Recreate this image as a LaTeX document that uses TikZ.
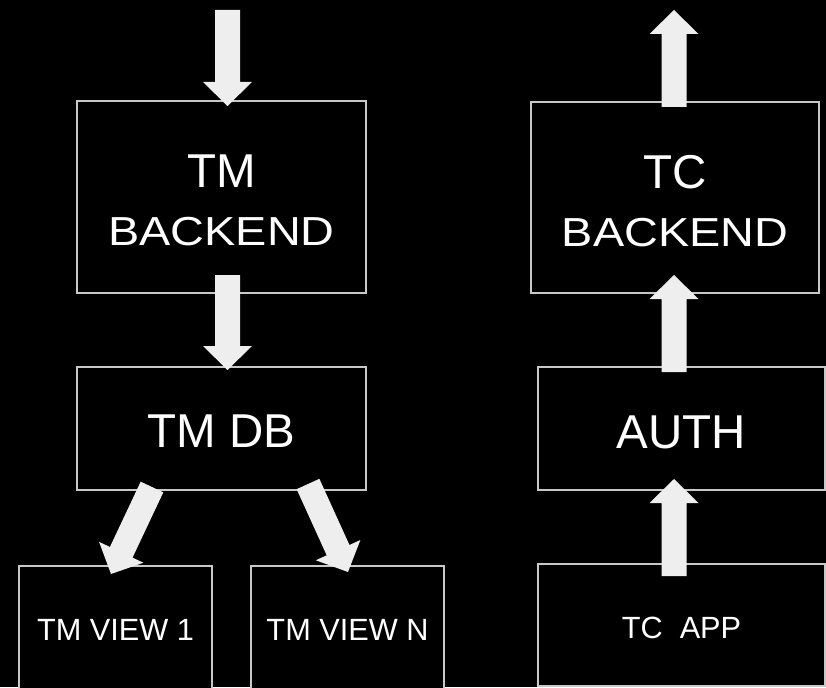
\documentclass[tikz,border=0pt]{standalone}
\usepackage{fontspec}
\setmainfont{Liberation Sans}
\usetikzlibrary{calc}
\definecolor{boxline}{RGB}{200,200,200}
\definecolor{arrfill}{RGB}{238,238,238}
\newcommand{\blockarr}[2]{%
  \coordinate (hb) at ($(#2)!24pt!(#1)$);
  \fill[arrfill] ($(#1)!12.5pt!90:(#2)$) -- ($(hb)!12.5pt!90:(#2)$) -- ($(hb)!24.5pt!90:(#2)$)
    -- (#2) -- ($(hb)!24.5pt!-90:(#2)$) -- ($(hb)!12.5pt!-90:(#2)$) -- ($(#1)!12.5pt!-90:(#2)$) -- cycle;
}
\newcommand{\dn}[2]{\raisebox{-#1}[\height][\depth]{#2}}
\newcommand{\twoline}[1]{\dn{8pt}{\begin{tabular}{@{}c@{}}#1\\\scalebox{0.985}[0.853]{BACKEND}\end{tabular}}}
\begin{document}
\begin{tikzpicture}[x=1pt,y=-1pt,
  box/.style={draw=boxline, line width=1.5pt, fill=black, text=white, inner sep=0pt, rectangle, align=center},
  big/.style={font=\fontsize{47.5}{58}\selectfont},
  small/.style={font=\fontsize{30.7}{36}\selectfont}]
\fill[black] (0,0) rectangle (826,687);
\useasboundingbox (0,0) rectangle (826,687);
% boxes
\node[box,big,minimum width=289pt,minimum height=192pt] (TMB) at (221.5,197) {\twoline{TM}};
\node[box,big,minimum width=289pt,minimum height=123pt] (TMDB) at (221.5,428.5) {\dn{2.5pt}{TM DB}};
\node[box,small,minimum width=193pt,minimum height=126pt] (V1) at (115.5,629) {\dn{1pt}{TM VIEW 1}};
\node[box,small,minimum width=193pt,minimum height=126pt] (VN) at (347.5,629) {\dn{1pt}{TM VIEW N}};
\node[box,big,minimum width=288pt,minimum height=191pt] (TCB) at (675,197.5) {\twoline{TC}};
\node[box,big,minimum width=287pt,minimum height=123pt] (AUTH) at (681.5,428.5) {\dn{3.5pt}{AUTH}};
\node[box,small,minimum width=287pt,minimum height=122pt] (APP) at (681.5,625) {\dn{3pt}{TC\ \ APP}};
% arrow end points
\coordinate (inTM) at (227.5,10);
\coordinate (tTMB) at (227.5,106);
\coordinate (sTMB) at (227.5,275);
\coordinate (tTMDB) at (227.5,370);
\coordinate (sDB1) at (152,487);
\coordinate (tV1) at (111,574);
\coordinate (sDB2) at (308,484);
\coordinate (tVN) at (348,572);
\coordinate (sTCB) at (674,107);
\coordinate (outTC) at (674,10);
\coordinate (sAUTH) at (674,372);
\coordinate (tTCB) at (674,275);
\coordinate (sAPP) at (674,576);
\coordinate (tAUTH) at (674,479);
% arrows
\blockarr{inTM}{tTMB}
\blockarr{sTMB}{tTMDB}
\blockarr{sDB1}{tV1}
\blockarr{sDB2}{tVN}
\blockarr{sTCB}{outTC}
\blockarr{sAUTH}{tTCB}
\blockarr{sAPP}{tAUTH}
\end{tikzpicture}
\end{document}
